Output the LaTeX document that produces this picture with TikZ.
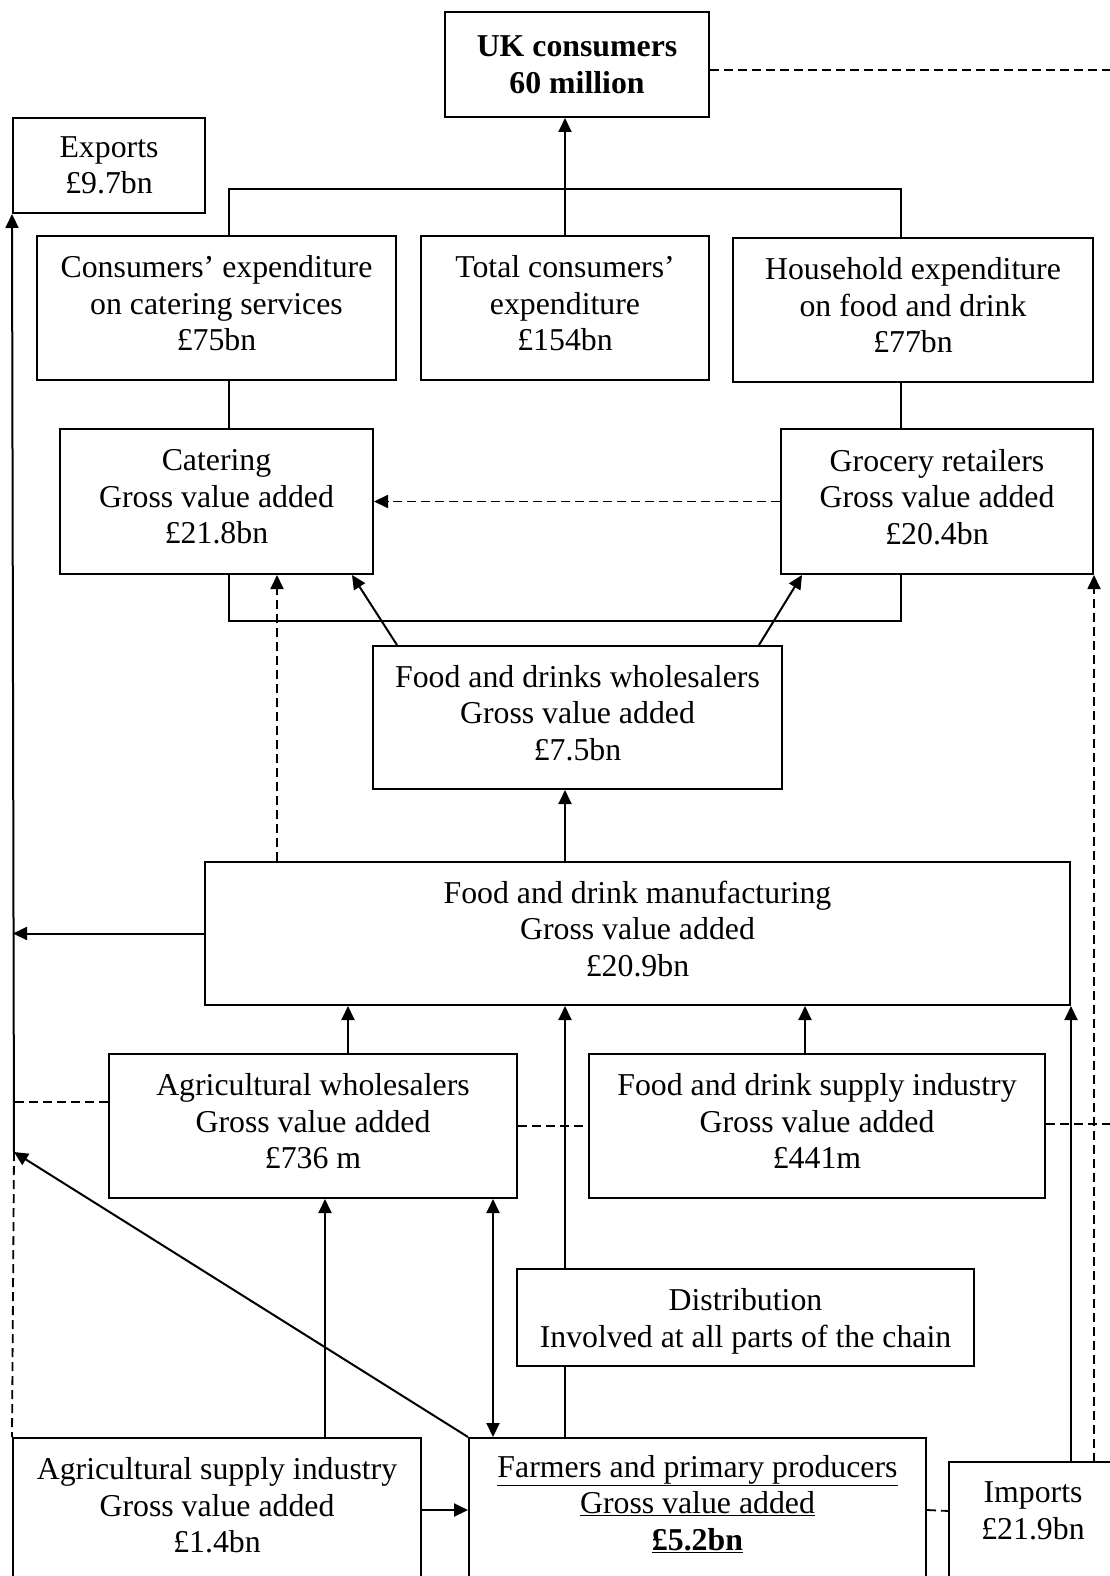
\documentclass[tikz,border=0pt]{standalone}
\usepackage{fontspec}
\setmainfont{Liberation Serif}
\usetikzlibrary{arrows.meta}
% invisible strut that sets the depth of a line
\newcommand\boxdp[1]{\rule[-#1pt]{0pt}{0pt}}
% invisible strut that sets the height of a line
\newcommand\boxht[1]{\rule{0pt}{#1pt}}
\begin{document}
\begin{tikzpicture}[x=1pt,y=-1pt,
  txt/.style={inner sep=0pt, align=center, font=\fontsize{31.8}{36.5}\selectfont},
  box/.style={txt, draw, line width=2pt},
  ln/.style={line width=2pt},
  arr/.style={ln, -{Triangle[length=14pt,width=13pt]}},
  dblarr/.style={ln, {Triangle[length=14pt,width=13pt]}-{Triangle[length=14pt,width=13pt]}},
  dsh/.style={line width=1.8pt, dash pattern=on 9pt off 5pt},
  darr/.style={dsh, -{Triangle[length=14pt,width=13pt]}},
]
\useasboundingbox (0,0) rectangle (1110,1576);
\clip (0,0) rectangle (1110,1576);

% boxes
\node[box, minimum width=264pt, minimum height=105pt] (uk) at (577,64.5) {\textbf{UK consumers}\\\textbf{60 million}};
\node[box, minimum width=192pt, minimum height=95pt] (exports) at (109,165.5) {Exports\\£9.7bn};
\node[box, minimum width=359pt, minimum height=144pt] (cexp) at (216.5,308) {Consumers’ expenditure\\on catering services\\£75bn\boxdp{10}};
\node[box, minimum width=288pt, minimum height=144pt] (total) at (565,308) {Total consumers’\\expenditure\\£154bn\boxdp{10}};
\node[box, minimum width=360pt, minimum height=144pt] (hexp) at (913,310) {Household expenditure\\on food and drink\\£77bn\boxdp{10}};
\node[box, minimum width=313pt, minimum height=145pt] (cater) at (216.5,501.5) {Catering\\Gross value added\\£21.8bn\boxdp{10}};
\node[box, minimum width=312pt, minimum height=145pt] (groc) at (937,501.5) {Grocery retailers\\Gross value added\\£20.4bn\boxdp{10}};
\node[box, minimum width=409pt, minimum height=143pt] (fdw) at (577.5,717.5) {Food and drinks wholesalers\\Gross value added\\£7.5bn\boxdp{10}};
\node[box, minimum width=865pt, minimum height=143pt] (manuf) at (637.5,933.5) {Food and drink manufacturing\\Gross value added\\£20.9bn\boxdp{10}};
\node[box, minimum width=408pt, minimum height=144pt] (agriwh) at (313,1126) {Agricultural wholesalers\\Gross value added\\£736 m\boxdp{10}};
\node[box, minimum width=456pt, minimum height=144pt] (fdsi) at (817,1126) {Food and drink supply industry\\Gross value added\\£441m\boxdp{10}};
\node[box, minimum width=457pt, minimum height=97pt] (distrib) at (745.5,1317.5) {\boxht{30}Distribution\\Involved at all parts of the chain};
\node[box, minimum width=408pt, minimum height=144pt] (agrisup) at (217,1510) {Agricultural supply industry\\Gross value added\\£1.4bn\boxdp{10}};
\node[box, minimum width=457pt, minimum height=144pt] (farm) at (697.5,1510) {\underline{Farmers and primary producers}\\\underline{Gross value added}\\\underline{\textbf{£5.2bn}}\boxdp{15}};
\node[txt, minimum width=168pt, minimum height=98pt] (imp) at (1033,1511) {Imports\\£21.9bn};
\draw[ln] ([yshift=-80pt]imp.south west) -- (imp.north west) -- (imp.north east);

% bend points and line positions
\coordinate (bl) at (229,189);
\coordinate (br) at (901,189);
\coordinate (lbl) at (229,621);
\coordinate (lbr) at (901,621);
\coordinate (dg) at (14,1152);
\coordinate (lx) at (13,0);
\coordinate (dx) at (277,0);
\coordinate (sp) at (565,0);
\coordinate (xa) at (348,0);
\coordinate (xf) at (805,0);
\coordinate (xs) at (325,0);
\coordinate (xd) at (493,0);
\coordinate (ukr) at (1115,70);
\coordinate (wl) at (13,1102);
\coordinate (fr) at (1115,1124);

% consumer level
\draw[arr] (total.north) -- (total.north |- uk.south);
\draw[ln] (cexp.north -| bl) -- (bl) -- (br) -- (hexp.north -| br);
\draw[ln] (cexp.south -| bl) -- (cater.north -| bl);
\draw[ln] (hexp.south -| br) -- (groc.north -| br);
\draw[ln] (cater.south -| lbl) -- (lbl) -- (lbr) -- (groc.south -| lbr);
\draw[darr] (groc.west) -- (cater.east);
\draw[dsh] (uk.east |- ukr) -- (ukr);

% wholesalers and manufacturing
\draw[arr] ([xshift=25pt]fdw.north west) -- ([xshift=-22pt]cater.south east);
\draw[arr] ([xshift=-24pt]fdw.north east) -- ([xshift=22pt]groc.south west);
\draw[arr] (manuf.north -| sp) -- (fdw.south -| sp);
\draw[darr] (manuf.north -| dx) -- (cater.south -| dx);

% exports side
\draw[arr] (manuf.west) -- (manuf.west -| lx);
\draw[arr] (dg) -- (exports.south west);
\draw[arr] (farm.north west) -- (dg);
\draw[dsh] (dg) -- (agrisup.north west);
\draw[dsh] (agriwh.west |- wl) -- (wl);

% supply level
\draw[arr] (agriwh.north -| xa) -- (manuf.south -| xa);
\draw[arr] (fdsi.north -| xf) -- (manuf.south -| xf);
\draw[dsh] (agriwh.east) -- (fdsi.west);
\draw[dsh] (fdsi.east |- fr) -- (fr);
\draw[arr] (agrisup.north -| xs) -- (agriwh.south -| xs);
\draw[dblarr] (farm.north -| xd) -- (agriwh.south -| xd);
\draw[ln] (farm.north -| sp) -- (distrib.south -| sp);
\draw[arr] (distrib.north -| sp) -- (manuf.south -| sp);

% imports side
\draw[arr] (imp.north -| manuf.east) -- (manuf.south east);
\draw[darr] (imp.north -| groc.east) -- (groc.south east);
\draw[arr] (agrisup.east) -- (farm.west);
\draw[dsh] (farm.east) -- (imp.west);
\end{tikzpicture}
\end{document}
